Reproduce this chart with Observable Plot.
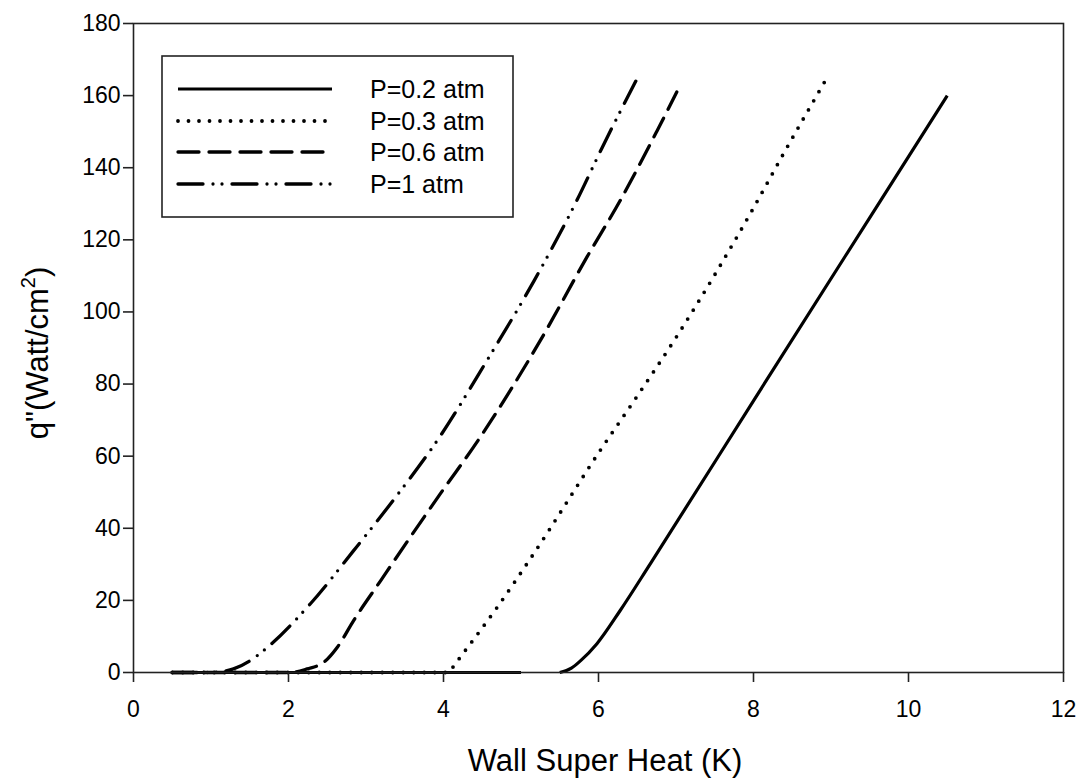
<!DOCTYPE html>
<html><head><meta charset="utf-8">
<script src="https://cdn.jsdelivr.net/npm/d3@7"></script>
<script src="https://cdn.jsdelivr.net/npm/@observablehq/plot@0.6"></script>
<style>
html,body{margin:0;padding:0;background:#fff;}
#chart{position:relative;width:1079px;height:778px;}
</style></head><body><div id="chart"></div>
<script>
// ---- data ----
const xTicks = [0, 2, 4, 6, 8, 10, 12];
const yTicks = [0, 20, 40, 60, 80, 100, 120, 140, 160, 180];
const seriesNames = ["P=0.2 atm", "P=0.3 atm", "P=0.6 atm", "P=1 atm"];

const x_p02 = [0.5, 5.0, 5.25, 5.5, 5.65, 5.77, 5.98, 6.28, 6.67, 8.03, 9.64, 10.5];
const q_p02 = [0, 0, null, 0, 1.2, 3.3, 8, 17.2, 30.2, 76.4, 130.9, 160];

const x_p03 = [0.5, 4.07, 4.13, 4.68, 5.15, 6.05, 6.46, 7.03, 7.97, 8.39, 8.95];
const q_p03 = [0, 0, 1.75, 17.7, 32.5, 62.5, 75.4, 93.9, 127.7, 144, 165];

const x_p06 = [0.5, 2.03, 2.24, 2.46, 2.63, 2.84, 3.19, 3.57, 3.96, 4.45, 5.25, 5.85, 6.28, 6.75, 7.01];
const q_p06 = [0, 0, 1, 2.9, 7, 14.4, 25.5, 37.5, 49.6, 64.5, 92.1, 115.2, 130.9, 150, 161];

const x_p1 = [0.5, 1.0, 1.15, 1.29, 1.54, 1.68, 2.28, 2.84, 3.36, 3.94, 4.56, 5.17, 5.72, 6.05, 6.51];
const q_p1 = [0, 0, 0.3, 1, 3.8, 6.1, 19, 33.8, 48, 65, 86.5, 108.7, 130.9, 145.7, 165.2];

// ---- build ----
const toRows = (xs, qs) => xs.map((x, i) => ({x, q: qs[i]}));
const series = [toRows(x_p02, q_p02), toRows(x_p03, q_p03), toRows(x_p06, q_p06), toRows(x_p1, q_p1)];
const styles = [
  {dash: null, width: 3.2},
  {dash: "0 10.5", width: 3.8},
  {dash: "21 10", width: 3.3},
  {dash: "25 10 0 9 0 10", width: 3.3}
];
const FONT = "'Liberation Sans', Arial, Helvetica, sans-serif";

const lineMark = (i) => Plot.line(series[i], {
  x: "x", y: "q", curve: "monotone-x",
  stroke: "#000", strokeWidth: styles[i].width,
  strokeDasharray: styles[i].dash || undefined,
  strokeLinecap: styles[i].dash ? "round" : "butt"
});

const chart = Plot.plot({
  width: 1079, height: 778,
  marginLeft: 133, marginRight: 16, marginTop: 23, marginBottom: 106,
  style: {fontFamily: FONT, fontSize: "23px", color: "#000", background: "#fff", overflow: "visible"},
  x: {domain: [0, 12], label: null},
  y: {domain: [0, 180], label: null},
  marks: [
    lineMark(3), lineMark(2), lineMark(1), lineMark(0),
    Plot.frame({stroke: "#222", strokeWidth: 1.6}),
    Plot.axisX({ticks: xTicks, tickSize: 10, tickPadding: 18, fontSize: 23, label: null, stroke: "#222", strokeWidth: 1.6, tickFormat: d => String(d)}),
    Plot.axisY({ticks: yTicks, tickSize: 10, tickPadding: 3, fontSize: 23, label: null, stroke: "#222", strokeWidth: 1.6, tickFormat: d => String(d)})
  ]
});
document.getElementById("chart").appendChild(chart);

// ---- titles & legend ----
const svg = d3.select(chart);
svg.append("text")
  .attr("x", 605).attr("y", 771)
  .attr("text-anchor", "middle")
  .attr("font-family", FONT).attr("font-size", 31).attr("fill", "#000")
  .text("Wall Super Heat (K)");

const yt = svg.append("text")
  .attr("transform", "translate(48,353) rotate(-90)")
  .attr("text-anchor", "middle")
  .attr("font-family", FONT).attr("font-size", 31).attr("fill", "#000");
yt.append("tspan").text("q\"(Watt/cm");
yt.append("tspan").attr("dy", -13).attr("font-size", 20).text("2");
yt.append("tspan").attr("dy", 13).text(")");

const lg = svg.append("g");
lg.append("rect").attr("x", 162).attr("y", 56).attr("width", 351).attr("height", 161)
  .attr("fill", "#fff").attr("stroke", "#222").attr("stroke-width", 1.6);
const rowY = [89, 121, 152, 184];
seriesNames.forEach((name, i) => {
  const st = styles[i];
  lg.append("line")
    .attr("x1", 178).attr("x2", 332).attr("y1", rowY[i]).attr("y2", rowY[i])
    .attr("stroke", "#000").attr("stroke-width", st.width)
    .attr("stroke-dasharray", st.dash)
    .attr("stroke-linecap", st.dash ? "round" : "butt");
  lg.append("text")
    .attr("x", 370).attr("y", rowY[i]).attr("dy", "0.36em")
    .attr("text-anchor", "start")
    .attr("font-family", FONT).attr("font-size", 25).attr("fill", "#000")
    .text(name);
});
</script>
</body></html>
